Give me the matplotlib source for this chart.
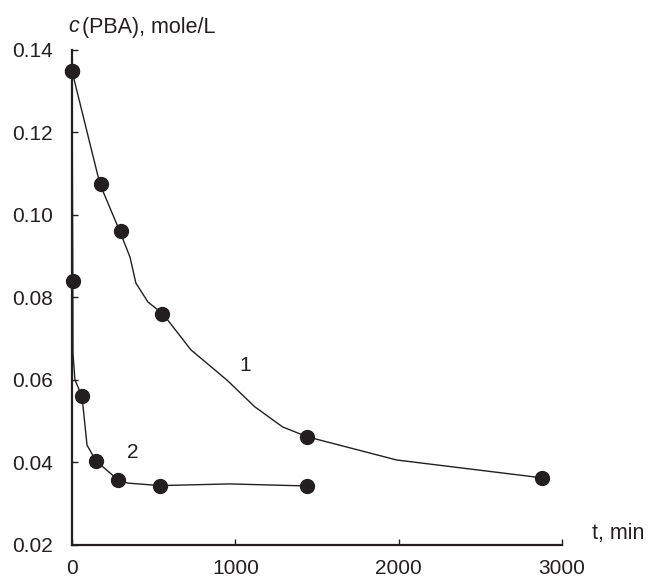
import matplotlib
matplotlib.use("Agg")
import matplotlib.pyplot as plt

plt.rcParams['font.family'] = ['Liberation Sans', 'DejaVu Sans']

# Courbe 1 : points mesurés
t1 = [0, 180, 300, 550, 1440, 2880]
c1 = [0.135, 0.1075, 0.096, 0.076, 0.0462, 0.0362]
# Courbe 1 : tracé lissé
t1_line = [0, 171, 294, 355, 391, 465, 557, 728, 948, 1119, 1290, 1443, 1988, 2893]
c1_line = [0.1349, 0.1075, 0.0959, 0.0898, 0.0835, 0.0789, 0.0760, 0.0673,
           0.0600, 0.0535, 0.0486, 0.0462, 0.0406, 0.0362]

# Courbe 2 : points mesurés
t2 = [0, 5, 60, 145, 280, 540, 1440]
c2 = [0.135, 0.084, 0.0561, 0.0404, 0.0358, 0.0344, 0.0343]
# Courbe 2 : tracé lissé
t2_line = [0, 5, 6, 18, 61, 92, 147, 281, 342, 538, 966, 1443]
c2_line = [0.135, 0.084, 0.0665, 0.060, 0.0561, 0.0442, 0.0404, 0.0358,
           0.0350, 0.0344, 0.0348, 0.0343]

xticks = [0, 1000, 2000, 3000]
yticks = [0.02, 0.04, 0.06, 0.08, 0.10, 0.12, 0.14]
ytick_labels = ['0.02', '0.04', '0.06', '0.08', '0.10', '0.12', '0.14']

ink = '#231f20'

fig = plt.figure(figsize=(6.51, 5.81), dpi=100)
ax = fig.add_axes([0.1106, 0.062, 0.7527, 0.852])

ax.plot(t1_line, c1_line, color=ink, lw=1.0, clip_on=False)
ax.plot(t2_line, c2_line, color=ink, lw=1.0, clip_on=False)
ax.plot(t1, c1, 'o', color=ink, ms=10, clip_on=False, zorder=3)
ax.plot(t2, c2, 'o', color=ink, ms=10, clip_on=False, zorder=3)

ax.text(1058, 0.0636, '1', fontsize=15, ha='center', va='center', color=ink)
ax.text(373, 0.0423, '2', fontsize=15, ha='center', va='center', color=ink)

ax.set_xlim(0, 3000)
ax.set_ylim(0.02, 0.14)
ax.set_xticks(xticks)
ax.set_yticks(yticks)
ax.set_yticklabels(ytick_labels)

for s in ['top', 'right']:
    ax.spines[s].set_visible(False)
for s in ['left', 'bottom']:
    ax.spines[s].set_linewidth(1.6)
    ax.spines[s].set_color(ink)

ax.tick_params(axis='both', direction='in', length=4, width=1.0,
               labelsize=15, colors=ink)
ax.tick_params(axis='x', pad=10)
ax.tick_params(axis='y', pad=14)

fig.text(68 / 651, 1 - 27 / 581, 'c', fontsize=15.5, fontstyle='italic',
         ha='left', va='center', color=ink)
fig.text(82 / 651, 1 - 27 / 581, '(PBA), mole/L', fontsize=15.5, ha='left',
         va='center', color=ink)
fig.text(592 / 651, 1 - 534 / 581, 't, min', fontsize=15.5, ha='left',
         va='center', color=ink)

fig.savefig('out.png', dpi=100)
